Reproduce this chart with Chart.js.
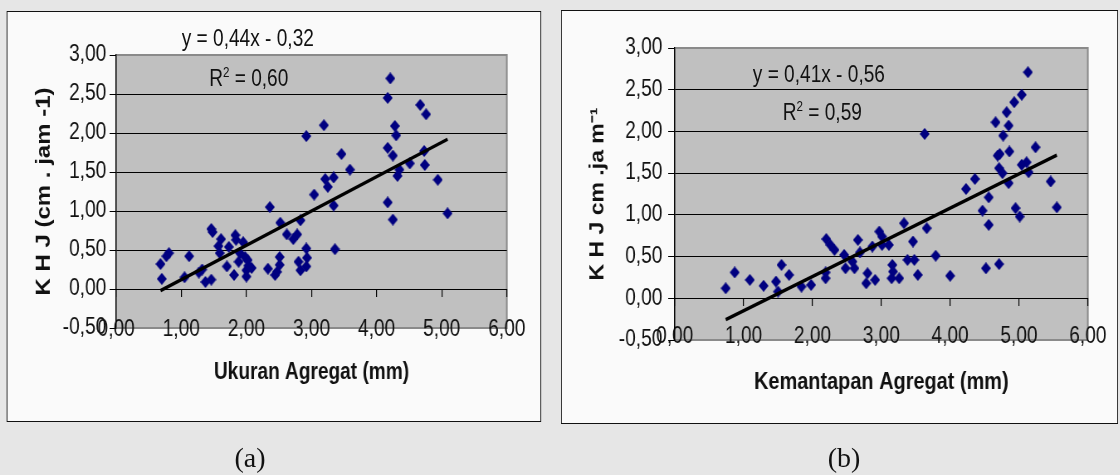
<!doctype html>
<html>
<head>
<meta charset="utf-8">
<title>KHJ vs Agregat</title>
<script src="https://cdn.jsdelivr.net/npm/chart.js@4.4.1/dist/chart.umd.min.js"></script>
<style>
body { margin:0; width:1120px; height:475px; background:#e6e6e6; position:relative; overflow:hidden;
       font-family:"Liberation Sans", Arial, sans-serif; }
/* the source figure is an excel chart squeezed horizontally, so draw wide and squeeze */
#stage { position:absolute; left:0; top:0; width:1350px; height:475px; transform:scaleX(0.83); transform-origin:0 0; }
.panel { position:absolute; border-style:solid; border-color:#111; border-width:1px 1.2px; background:#fafafa; }
.panel canvas { position:absolute; left:0; top:0; }
.eq { position:absolute; font-size:23px; line-height:1; color:#111; white-space:nowrap; z-index:2; }
.eq sup { font-size:14px; vertical-align:9px; line-height:0; }
.cap { position:absolute; width:80px; text-align:center; font-family:"Liberation Serif",serif; font-size:28px; line-height:1; color:#111; }
</style>
</head>
<body>

<div id="stage">
    <div class="panel" style="left:8.43px; top:11px; width:642px; height:409px;">
        <canvas id="chartA" width="642" height="409"></canvas>
    </div>
    <div class="panel" style="left:675.9px; top:10px; width:669px; height:412px;">
        <canvas id="chartB" width="669" height="412"></canvas>
    </div>

    <div class="eq" style="left:219px; top:27px;">y = 0,44x - 0,32</div>
    <div class="eq" style="left:252px; top:67px;">R<sup>2</sup> = 0,60</div>
    <div class="eq" style="left:907px; top:63px;">y = 0,41x - 0,56</div>
    <div class="eq" style="left:943px; top:101px;">R<sup>2</sup> = 0,59</div>
</div>

<div class="cap" style="left:210px; top:444px;">(a)</div>
<div class="cap" style="left:804px; top:444px;">(b)</div>

<script>
// (a) ukuran agregat (mm) vs KHJ
var ukuranA = [0.68, 0.70, 0.77, 0.81, 1.05, 1.12, 1.27, 1.32, 1.37, 1.46, 1.46, 1.48, 1.57, 1.59, 1.61,
    1.70, 1.73, 1.81, 1.83, 1.84, 1.88, 1.90, 1.95, 1.98, 2.00, 2.00, 2.02, 2.03, 2.08, 2.33,
    2.36, 2.44, 2.47, 2.51, 2.51, 2.52, 2.62, 2.72, 2.78, 2.83, 2.80, 2.83, 2.92, 2.92, 2.93,
    2.92, 3.04, 3.19, 3.21, 3.25, 3.34, 3.34, 3.36, 3.46, 3.59, 4.17, 4.21, 4.28, 4.30, 4.17,
    4.25, 4.32, 4.35, 4.51, 4.67, 4.76, 4.73, 4.74, 4.94, 4.17, 4.25, 5.09];
var khjA = [0.32, 0.13, 0.42, 0.46, 0.15, 0.42, 0.21, 0.25, 0.09, 0.12, 0.77, 0.73, 0.55, 0.46, 0.64,
    0.29, 0.54, 0.18, 0.69, 0.63, 0.35, 0.46, 0.60, 0.41, 0.24, 0.16, 0.37, 0.30, 0.27, 0.26,
    1.05, 0.18, 0.22, 0.41, 0.31, 0.85, 0.70, 0.64, 0.70, 0.88, 0.35, 0.24, 1.96, 0.52, 0.40,
    0.29, 1.21, 2.10, 1.41, 1.31, 1.43, 1.07, 0.51, 1.73, 1.53, 2.45, 2.70, 2.09, 1.97, 1.81,
    1.71, 1.45, 1.53, 1.61, 2.36, 2.24, 1.77, 1.59, 1.40, 1.11, 0.89, 0.97];
var trendA = [0.44, -0.32];   // slope, intercept

// (b) kemantapan agregat (mm) vs KHJ
var mantapB = [0.74, 0.87, 1.09, 1.29, 1.47, 1.50, 1.55, 1.66, 1.84, 1.98, 2.19, 2.19, 2.20, 2.26, 2.32,
    2.46, 2.48, 2.58, 2.61, 2.66, 2.69, 2.80, 2.78, 2.91, 2.87, 2.97, 3.01, 3.01, 3.11, 3.16,
    3.17, 3.15, 3.26, 3.33, 3.38, 3.46, 3.48, 3.53, 3.63, 3.66, 3.79, 4.00, 4.23, 4.36, 4.47,
    4.56, 4.56, 4.52, 4.71, 4.66, 4.72, 4.77, 4.85, 4.82, 4.93, 5.04, 5.13, 4.86, 4.71, 4.76,
    4.85, 4.95, 5.01, 5.04, 5.11, 5.14, 5.24, 5.46, 5.55, 4.69];
var khjB = [0.12, 0.31, 0.22, 0.15, 0.20, 0.08, 0.40, 0.28, 0.14, 0.16, 0.24, 0.31, 0.71, 0.64, 0.58,
    0.52, 0.36, 0.44, 0.36, 0.70, 0.55, 0.30, 0.18, 0.22, 0.62, 0.80, 0.74, 0.64, 0.64, 0.40,
    0.32, 0.24, 0.24, 0.90, 0.46, 0.68, 0.46, 0.28, 1.97, 0.84, 0.51, 0.27, 1.31, 1.43, 1.05,
    1.21, 0.88, 0.36, 0.41, 2.11, 1.73, 1.95, 2.07, 2.23, 2.35, 2.44, 2.71, 1.76, 1.56, 1.50,
    1.38, 1.08, 0.98, 1.60, 1.63, 1.51, 1.81, 1.40, 1.09, 1.71];
var trendB = [0.41, -0.56];

var xTicks = [0, 6, 1];        // min, max, step
var yTicks = [-0.5, 3, 0.5];

function comma(v) { return v.toFixed(2).replace('.', ','); }

function diamond(w, h, color) {
    var c = document.createElement('canvas');
    c.width = w; c.height = h;
    var g = c.getContext('2d');
    g.fillStyle = color;
    g.beginPath();
    g.moveTo(w / 2, 0); g.lineTo(w, h / 2); g.lineTo(w / 2, h); g.lineTo(0, h / 2);
    g.closePath(); g.fill();
    return c;
}
var marker = diamond(12, 12, '#000080');

var LIFT = 30;  // x labels sit on the plot's bottom edge, so widen their clip box upward

// grey plot area with grey frame, like excel
var plotBg = {
    id: 'plotBg',
    afterLayout: function(chart) {
        chart.scales.x.top -= LIFT;
    },
    beforeDraw: function(chart) {
        var a = chart.chartArea, ctx = chart.ctx;
        ctx.save();
        ctx.fillStyle = '#c0c0c0';
        ctx.fillRect(a.left, a.top, a.right - a.left, a.bottom - a.top);
        ctx.strokeStyle = '#8a8a8a';
        ctx.lineWidth = 2;
        ctx.strokeRect(a.left, a.top, a.right - a.left, a.bottom - a.top);
        ctx.restore();
    }
};

var FONT = '"Liberation Sans", Arial, sans-serif';

function makeChart(id, xs, ys, trend, g, xTitle, yTitle) {
    var pts = xs.map(function(x, i) { return {x: x, y: ys[i]}; });
    var lo = Math.min.apply(null, xs), hi = Math.max.apply(null, xs);
    var line = [{x: lo, y: trend[0] * lo + trend[1]}, {x: hi, y: trend[0] * hi + trend[1]}];

    return new Chart(document.getElementById(id), {
        type: 'scatter',
        data: {
            datasets: [{
                data: pts,
                pointStyle: marker,
                order: 1
            }, {
                data: line,
                showLine: true,
                borderColor: '#000',
                borderWidth: 3.5,
                pointRadius: 0,
                order: 0
            }]
        },
        options: {
            responsive: false,
            animation: false,
            layout: { padding: { top: g.top, right: g.right, left: 0, bottom: 0 } },
            plugins: { legend: { display: false }, tooltip: { enabled: false } },
            scales: {
                x: {
                    type: 'linear', min: xTicks[0], max: xTicks[1],
                    afterFit: function(s) { s.height = g.xh; },
                    ticks: { stepSize: xTicks[2], padding: g.xpad + LIFT, color: '#111',
                             font: { family: FONT, size: 23 }, callback: comma },
                    grid: { display: false, drawTicks: false },
                    border: { display: false },
                    title: { display: true, text: xTitle, color: '#111',
                             font: { family: FONT, size: g.xts, weight: 'bold' },
                             padding: { top: 0, bottom: g.xtpad } }
                },
                x2: {
                    type: 'linear', min: xTicks[0], max: xTicks[1], position: { y: 0 },
                    ticks: { stepSize: xTicks[2], display: false },
                    grid: { drawOnChartArea: false, drawTicks: true, tickLength: 7, tickColor: '#000', lineWidth: 1.2 },
                    border: { display: true, color: '#000', width: 1 }
                },
                y: {
                    type: 'linear', min: yTicks[0], max: yTicks[1],
                    afterFit: function(s) { s.width = g.yw; },
                    ticks: { stepSize: yTicks[2], padding: g.ypad, color: '#111',
                             font: { family: FONT, size: 23 }, callback: comma },
                    grid: {
                        color: function(c) {
                            var v = c.tick ? c.tick.value : 0;
                            return (v <= yTicks[0] || v >= yTicks[1]) ? 'rgba(0,0,0,0)' : '#000';
                        },
                        tickColor: '#000', tickLength: 8, lineWidth: 1
                    },
                    border: { color: '#000', width: 1.3 },
                    title: { display: true, text: yTitle, color: '#111',
                             font: { family: FONT, size: g.yts, weight: 'bold' },
                             padding: { top: g.ytpad, bottom: 0 } }
                }
            }
        },
        plugins: [plotBg]
    });
}

makeChart('chartA', ukuranA, khjA, trendA,
    { top: 43, right: 37, yw: 131, xh: 93, xpad: -12, ypad: 4, xts: 23, xtpad: 35, yts: 24, ytpad: 30 },
    'Ukuran Agregat (mm)', 'K H J (cm . jam -1)');
makeChart('chartB', mantapB, khjB, trendB,
    { top: 37, right: 34, yw: 136, xh: 83, xpad: -17, ypad: 7, xts: 24, yts: 23, xtpad: 26, ytpad: 30 },
    'Kemantapan Agregat (mm)', 'K H J cm .ja m\u207B\u00B9');
</script>
</body>
</html>
